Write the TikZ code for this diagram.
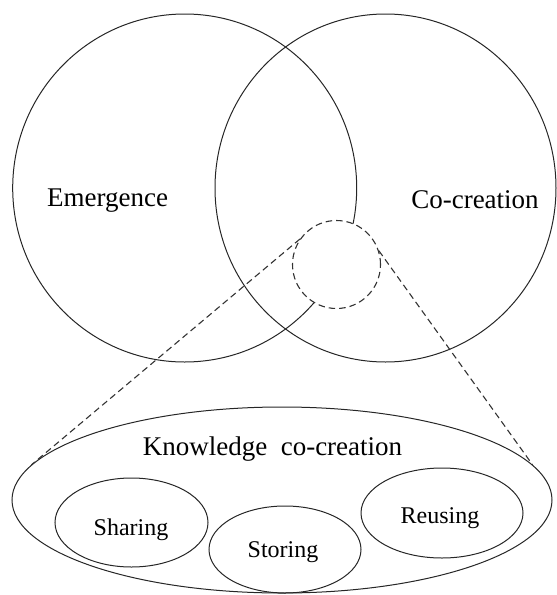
\documentclass[tikz,border=0pt]{standalone}
\usepackage{fontspec}
\setmainfont{Liberation Serif}
\usetikzlibrary{shapes.geometric}
\begin{document}
\begin{tikzpicture}[x=1pt,y=-1pt,
  outline/.style={draw=black!85, line width=1pt},
  region/.style={outline, ellipse, inner sep=0pt},
  zoomline/.style={draw=black!80, line width=1.1pt, dash pattern=on 6.5pt off 4pt},
  biglabel/.style={font=\fontsize{27}{30}\selectfont, anchor=base, inner sep=0pt},
  smalllabel/.style={font=\fontsize{24}{28}\selectfont, anchor=base, inner sep=0pt}]
\useasboundingbox (0,0) rectangle (557,595);

% the two overlapping regions
\node[region, minimum width=344pt, minimum height=348pt] (em) at (184.7,188) {};
\node[region, minimum width=341pt, minimum height=348pt] (cc) at (385.5,188) {};
\node[biglabel] (emt) at (107.5,206.7) {Emergence};
\node[biglabel] (cct) at (475,208.3) {Co-creation};

% magnified spot in the overlap
\node[circle, zoomline, fill=white, inner sep=0pt, minimum size=88pt] (dc) at (336.5,264.5) {};

% knowledge co-creation and its three activities
\node[region, minimum width=540pt, minimum height=186pt] (kc) at (282,500) {};
\node[biglabel] (kct) at (272.5,455) {Knowledge\ \ co-creation};

\node[region, minimum width=153pt, minimum height=89pt] (sh) at (131.5,522.5) {};
\node[region, minimum width=152pt, minimum height=87pt] (st) at (285,549.5) {};
\node[region, minimum width=162pt, minimum height=90pt] (re) at (442,513) {};
\node[smalllabel] (sht) at (131,535) {Sharing};
\node[smalllabel] (stt) at (283,557) {Storing};
\node[smalllabel] (ret) at (440,523) {Reusing};

% projection lines from the spot to the enlarged view
\draw[zoomline] (dc.145) -- (kc.172);
\draw[zoomline] (dc.18) -- (kc.8);
\end{tikzpicture}
\end{document}
